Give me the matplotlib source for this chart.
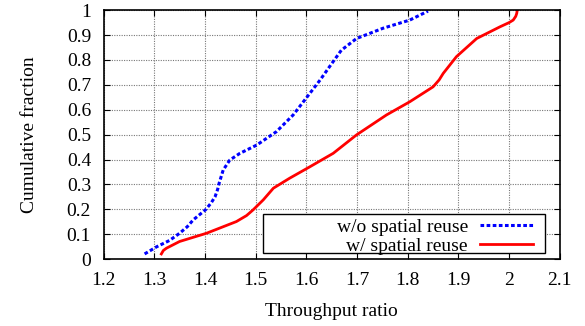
import numpy as np
import matplotlib
matplotlib.use('Agg')
import matplotlib.pyplot as plt
from matplotlib.patches import Rectangle

plt.rcParams['font.family'] = ['Liberation Serif', 'DejaVu Serif']
plt.rcParams['font.size'] = 14

# CDF of throughput ratio
x_without = [1.281, 1.305, 1.330, 1.350, 1.365, 1.377, 1.401, 1.412, 1.420,
             1.425, 1.428, 1.436, 1.449, 1.469, 1.502, 1.541, 1.574, 1.607,
             1.627, 1.650, 1.669, 1.699, 1.751, 1.804, 1.840]
y_without = [0.021, 0.050, 0.075, 0.104, 0.130, 0.158, 0.198, 0.225, 0.251,
             0.280, 0.305, 0.358, 0.398, 0.425, 0.458, 0.512, 0.579, 0.666,
             0.719, 0.785, 0.839, 0.886, 0.927, 0.960, 0.996]

x_with = [1.314, 1.318, 1.324, 1.350, 1.403, 1.462, 1.482, 1.495, 1.505,
          1.515, 1.535, 1.567, 1.607, 1.653, 1.699, 1.758, 1.804, 1.850,
          1.862, 1.870, 1.896, 1.936, 1.982, 2.000, 2.008, 2.013, 2.015, 2.016]
y_with = [0.021, 0.035, 0.044, 0.071, 0.104, 0.151, 0.175, 0.198, 0.218,
          0.238, 0.285, 0.325, 0.371, 0.425, 0.499, 0.579, 0.632, 0.692,
          0.720, 0.746, 0.813, 0.886, 0.933, 0.950, 0.960, 0.975, 0.987, 1.000]

fig = plt.figure(figsize=(5.85, 3.26), dpi=100)
ax = fig.add_axes([0.177, 0.205, 0.78, 0.764])

ax.plot(x_without, y_without, color='blue', lw=2.2, linestyle=(0, (1.2, 0.8)),
        label='w/o spatial reuse')
ax.plot(x_with, y_with, color='red', lw=2, label='w/ spatial reuse')

ax.set_xlim(1.2, 2.1)
ax.set_ylim(0, 1)
ax.set_xticks(np.arange(1.2, 2.11, 0.1))
ax.set_xticklabels(['1.2', '1.3', '1.4', '1.5', '1.6', '1.7', '1.8', '1.9', '2', '2.1'])
ax.set_yticks(np.arange(0, 1.01, 0.1))
ax.set_yticklabels(['0', '0.1', '0.2', '0.3', '0.4', '0.5', '0.6', '0.7', '0.8', '0.9', '1'])
ax.tick_params(direction='in', top=True, right=True, length=4)
ax.tick_params(axis='x', pad=9)
ax.tick_params(axis='y', pad=9)
ax.grid(True, color='#777777', linestyle=(0, (1, 1.2)), linewidth=0.8)
for s in ax.spines.values():
    s.set_linewidth(1.2)

ax.set_xlabel('Throughput ratio', labelpad=10)
ax.set_ylabel('Cumulative fraction', labelpad=21)

# gnuplot-style key: wide box, label right-aligned before the sample
box = Rectangle((0.349, 0.024), 0.618, 0.158, transform=ax.transAxes,
                facecolor='white', edgecolor='black', lw=1.0, zorder=4)
ax.add_patch(box)
leg = ax.legend(loc='lower right', bbox_to_anchor=(0.941, 0.018),
                markerfirst=False, frameon=False, borderaxespad=0,
                borderpad=0, handlelength=2.7, labelspacing=0.05,
                handletextpad=0.65)
leg.set_zorder(5)
for t in leg.get_texts():
    t.set_ha('right')

fig.savefig('out.png', dpi=100)
